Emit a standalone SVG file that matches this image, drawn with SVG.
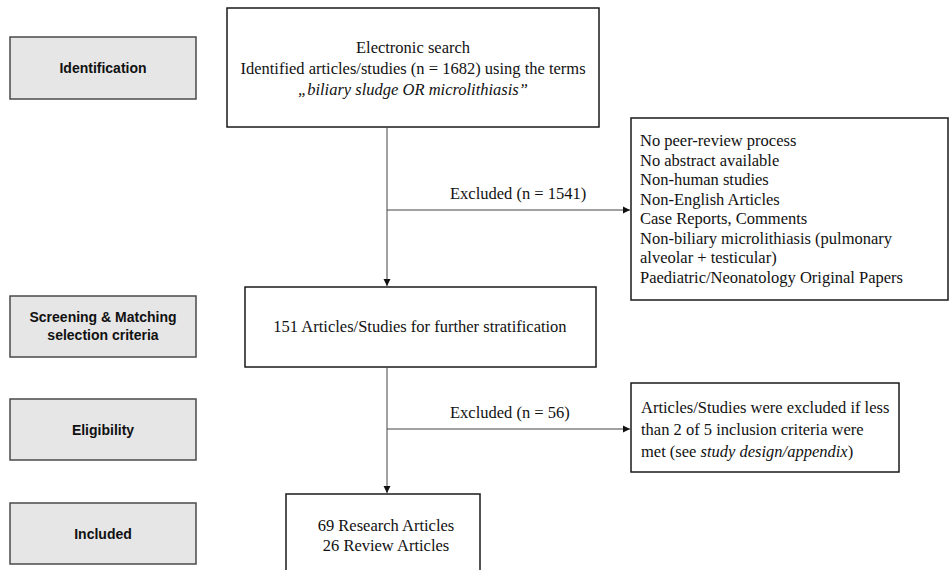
<svg xmlns="http://www.w3.org/2000/svg" width="950" height="570" viewBox="0 0 950 570">
<style>
.stage{fill:#e6e6e6;stroke:#4a4a4a;stroke-width:1.5}
.box{fill:#fff;stroke:#1a1a1a;stroke-width:1.5}
.lbl{font-family:"Liberation Sans",Arial,sans-serif;font-weight:bold;font-size:14px;fill:#111;text-anchor:middle}
.t{font-family:"Liberation Serif","Times New Roman",serif;font-size:16.5px;fill:#111}
.c{text-anchor:middle}
.ln{stroke:#444;stroke-width:1;fill:none}
</style>
<defs>
<marker id="ah" markerWidth="8" markerHeight="8" refX="7" refY="4" orient="auto" markerUnits="userSpaceOnUse">
<path d="M0,0.5 L7,4 L0,7.5 Z" fill="#111"/>
</marker>
</defs>
<g id="stage-identification"><rect class="stage" x="10" y="37" width="186" height="62"/><text class="lbl" x="103" y="73">Identification</text></g>
<g id="stage-screening"><rect class="stage" x="10" y="296" width="186" height="61"/><text class="lbl" x="103" y="322">Screening &amp; Matching</text><text class="lbl" x="103" y="340">selection criteria</text></g>
<g id="stage-eligibility"><rect class="stage" x="10" y="399" width="186" height="61"/><text class="lbl" x="103" y="435">Eligibility</text></g>
<g id="stage-included"><rect class="stage" x="10" y="503" width="186" height="61"/><text class="lbl" x="103" y="539">Included</text></g>
<g id="search"><rect class="box" x="227" y="8" width="372" height="119"/>
<text class="t c" x="413" y="53">Electronic search</text>
<text class="t c" x="413" y="74">Identified articles/studies (n = 1682) using the terms</text>
<text class="t c" x="413" y="95" font-style="italic">„biliary sludge OR microlithiasis”</text></g>
<g id="excl1"><rect class="box" x="631" y="118" width="317" height="182"/>
<text class="t" x="640" y="146">No peer-review process</text>
<text class="t" x="640" y="166">No abstract available</text>
<text class="t" x="640" y="185">Non-human studies</text>
<text class="t" x="640" y="205">Non-English Articles</text>
<text class="t" x="640" y="224">Case Reports, Comments</text>
<text class="t" x="640" y="244">Non-biliary microlithiasis (pulmonary</text>
<text class="t" x="640" y="263">alveolar + testicular)</text>
<text class="t" x="640" y="283">Paediatric/Neonatology Original Papers</text></g>
<g id="screen"><rect class="box" x="245" y="287" width="351" height="80"/>
<text class="t c" x="420" y="332">151 Articles/Studies for further stratification</text></g>
<g id="excl2"><rect class="box" x="631" y="383" width="268" height="89"/>
<text class="t" x="641" y="413">Articles/Studies were excluded if less</text>
<text class="t" x="641" y="435">than 2 of 5 inclusion criteria were</text>
<text class="t" x="641" y="457">met (see <tspan font-style="italic">study design/appendix</tspan>)</text></g>
<g id="included"><rect class="box" x="286" y="494" width="194" height="90"/>
<text class="t c" x="386" y="531">69 Research Articles</text>
<text class="t c" x="386" y="551">26 Review Articles</text></g>
<g id="connectors">
<line class="ln" x1="387" y1="127" x2="387" y2="286" marker-end="url(#ah)"/>
<line class="ln" x1="387" y1="210" x2="630" y2="210" marker-end="url(#ah)"/>
<text class="t" x="450" y="199">Excluded (n = 1541)</text>
<line class="ln" x1="387" y1="367" x2="387" y2="493" marker-end="url(#ah)"/>
<line class="ln" x1="387" y1="429" x2="630" y2="429" marker-end="url(#ah)"/>
<text class="t" x="450" y="418">Excluded (n = 56)</text>
</g>
</svg>
